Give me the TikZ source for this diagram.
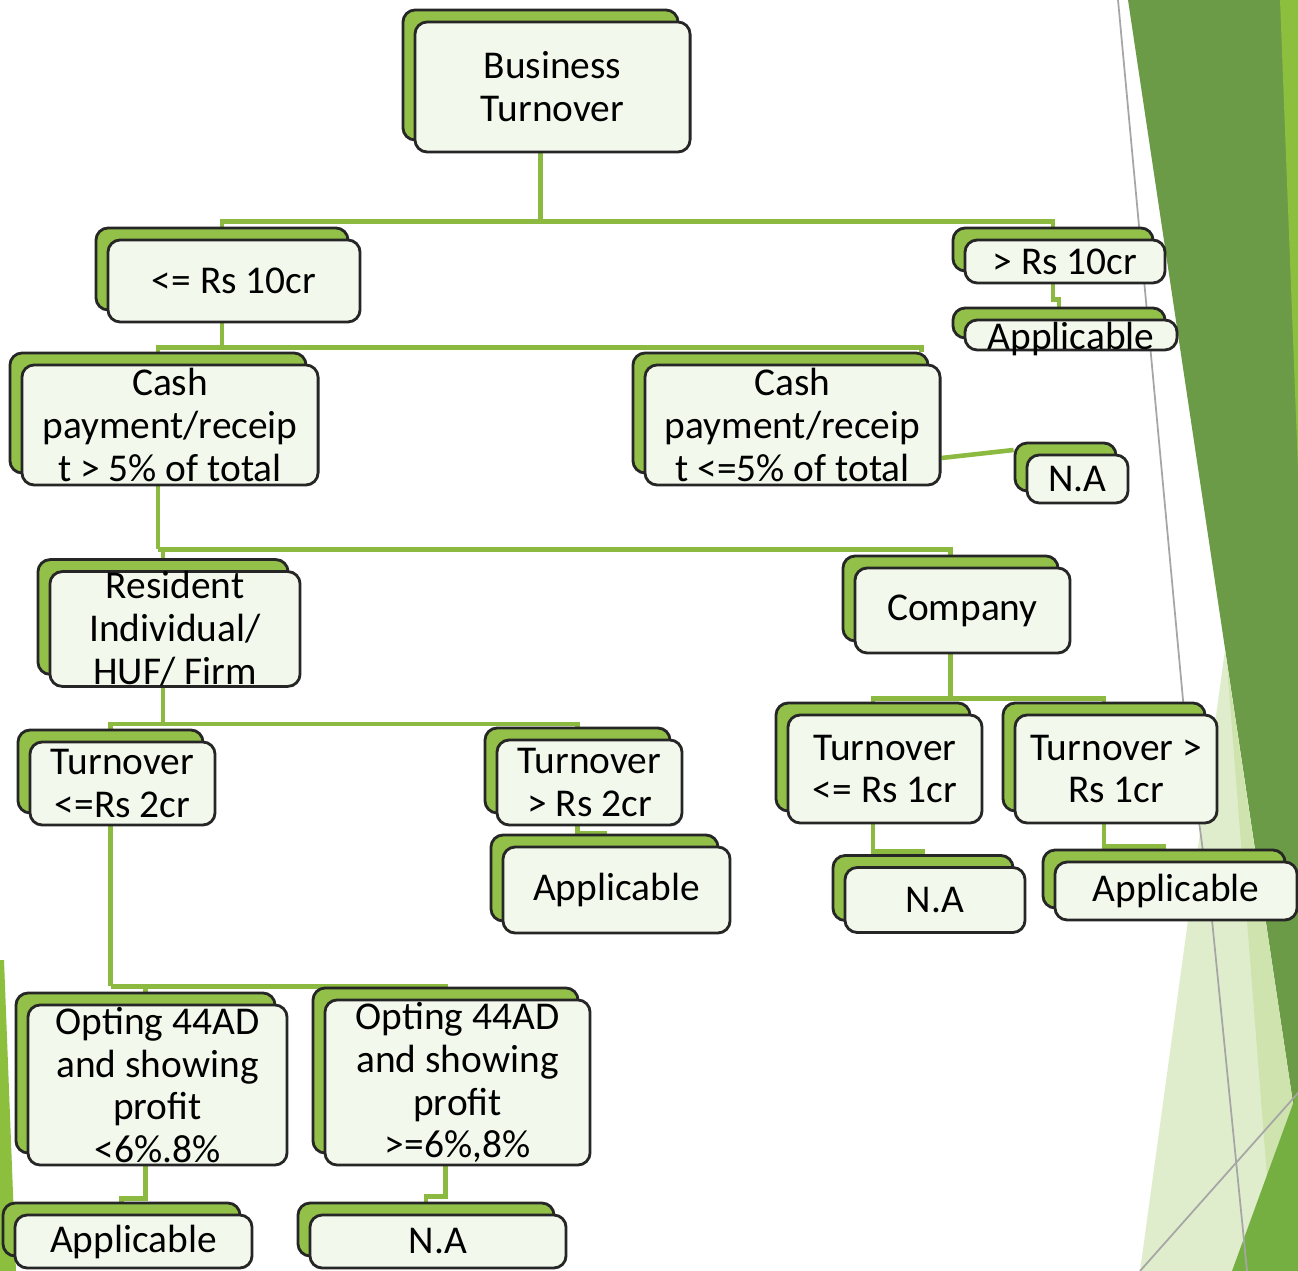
\documentclass[tikz,border=0pt]{standalone}
\usepackage{fontspec}
\setmainfont{Carlito}
\usepackage{xcolor}
\usetikzlibrary{shadows, backgrounds}
\definecolor{boxfill}{HTML}{F3F8EC}
\definecolor{boxgreen}{HTML}{92C048}
\definecolor{linkgreen}{HTML}{8CB940}
\definecolor{decodark}{HTML}{6B9B46}
\definecolor{decobright}{HTML}{8BBF3D}
\definecolor{decopale}{HTML}{E0EDCC}
\definecolor{decolight}{HTML}{CFE3AE}
\definecolor{decomid}{HTML}{76AF41}
\newcommand{\boxfont}{\fontsize{11.2}{12.2}\selectfont}
\pgfdeclarelayer{deco}
\pgfsetlayers{deco,background,main}
\tikzset{
  box/.style={draw=black!85, line width=0.8pt, rounded corners=3.5pt, fill=boxfill,
    inner sep=0pt, align=center, font=\boxfont,
    general shadow={fill=boxgreen, draw=black!85, line width=0.8pt, shadow xshift=-0.12cm, shadow yshift=0.12cm}},
  link/.style={draw=linkgreen, line width=1.3pt},
  decoline/.style={draw=black!35, line width=0.5pt},
}
\begin{document}
\begin{tikzpicture}[x=0.01cm, y=-0.01cm]
				\useasboundingbox (0,0) rectangle (1298,1271);
				
				\begin{pgfonlayer}{deco}
				\fill[white] (0,0) rectangle (1298,1271);
				\fill[decodark] (1128,0) -- (1298,0) -- (1298,1137) -- cycle;
				\fill[decobright] (1280,0) -- (1298,0) -- (1298,470) -- cycle;
				\fill[decopale] (1225,650) -- (1298,1137) -- (1298,1271) -- (1140,1271) -- cycle;
				\fill[decolight] (1227,665) -- (1298,1137) -- (1270,1215) -- cycle;
				\fill[decomid] (1298,1090) -- (1298,1271) -- (1232,1271) -- cycle;
				\fill[decobright] (0,960) -- (4,960) -- (16,1271) -- (0,1271) -- cycle;
				\draw[decoline] (1118,0) -- (1183,700) -- (1212,920) -- (1247,1271);
				\draw[decoline] (1298,1093) -- (1140,1271);
				\end{pgfonlayer}
				
				\node[box, minimum width=2.75cm, minimum height=1.30cm] (biz) at (552.5,87) {Business\\Turnover};
				\node[box, minimum width=2.52cm, minimum height=0.82cm] (le10) at (234,281) {<= Rs 10cr};
				\node[box, minimum width=2.00cm, minimum height=0.43cm] (gt10) at (1065,261.5) {> Rs 10cr};
				\node[box, minimum width=2.12cm, minimum height=0.30cm, text height=0.30cm, text depth=0pt] (appA) at (1071,335) {Applicable};
				
				\node[box, minimum width=2.96cm, minimum height=1.20cm] (cashA) at (170,425) {Cash\\payment/receip\\t > 5\% of total};
				\node[box, minimum width=2.95cm, minimum height=1.20cm] (cashB) at (792.5,425) {Cash\\payment/receip\\t <=5\% of total};
				\node[box, minimum width=1.01cm, minimum height=0.48cm] (naA) at (1077.5,479) {N.A};
				
				\node[box, minimum width=2.50cm, minimum height=1.14cm] (res) at (175,629) {Resident\\Individual/\\HUF/ Firm};
				\node[box, minimum width=2.15cm, minimum height=0.85cm] (comp) at (962.5,610.5) {Company};
				
				\node[box, minimum width=1.85cm, minimum height=0.83cm] (toA) at (122.5,783.5) {Turnover\\<=Rs 2cr};
				\node[box, minimum width=1.85cm, minimum height=0.85cm] (toB) at (589.5,782.5) {Turnover\\> Rs 2cr};
				\node[box, minimum width=2.27cm, minimum height=0.86cm] (appB) at (616.5,890) {Applicable};
				\node[box, minimum width=1.94cm, minimum height=1.08cm] (toC) at (885,769) {Turnover\\<= Rs 1cr};
				\node[box, minimum width=2.02cm, minimum height=1.08cm] (toD) at (1116,769) {Turnover >\\Rs 1cr};
				\node[box, minimum width=1.80cm, minimum height=0.65cm] (naB) at (935,900) {N.A};
				\node[box, minimum width=2.42cm, minimum height=0.58cm] (appC) at (1176,891) {Applicable};
				
				\node[box, minimum width=2.59cm, minimum height=1.60cm] (optA) at (157.5,1085) {Opting 44AD\\and showing\\profit\\<6\%.8\%};
				\node[box, minimum width=2.65cm, minimum height=1.65cm] (optB) at (457.5,1082.5) {Opting 44AD\\and showing\\profit\\>=6\%,8\%};
				\node[box, minimum width=2.37cm, minimum height=0.53cm] (appD) at (133.5,1241.5) {Applicable};
				\node[box, minimum width=2.56cm, minimum height=0.53cm] (naC) at (438,1241.5) {N.A};
				
				\begin{scope}[on background layer]
				\draw[link] ([shift={(-12,0)}]biz.south) -- ++(0,68) coordinate (j1);
				\draw[link] (j1) -| ([shift={(-12,-12)}]le10.north);
				\draw[link] (j1) -| ([shift={(-12,-12)}]gt10.north);
				\draw[link] ([shift={(-12,0)}]gt10.south) -- ++(0,15) -| ([shift={(-12,-12)}]appA.north);
				
				\draw[link] ([shift={(-12,0)}]le10.south) -- ++(0,24) coordinate (j2);
				\draw[link] (j2) -| ([shift={(-12,-12)}]cashA.north);
				\draw[link] (j2) -| ([shift={(-20,-12)}]cashB.north east);
				\draw[link] ([shift={(0,33)}]cashB.east) -- ([shift={(-12,-29)}]naA.west);
				
				\draw[link] ([shift={(-12,0)}]cashA.south) -- ++(0,63) coordinate (j3);
				\draw[link] (j3) -| ([shift={(-12,-12)}]res.north);
				\draw[link] (j3) -| ([shift={(-12,-12)}]comp.north);
				
				\draw[link] ([shift={(-12,0)}]res.south) -- ++(0,36) coordinate (j4);
				\draw[link] (j4) -| ([shift={(-12,-12)}]toA.north);
				\draw[link] (j4) -| ([shift={(-12,-12)}]toB.north);
				\draw[link] ([shift={(-12,0)}]toB.south) -- ++(0,7) -| ([shift={(-12,-12)}]appB.north);
				
				\draw[link] ([shift={(-12,0)}]comp.south) -- ++(0,44) coordinate (j5);
				\draw[link] (j5) -| ([shift={(-12,-12)}]toC.north);
				\draw[link] (j5) -| ([shift={(-12,-12)}]toD.north);
				\draw[link] ([shift={(-12,0)}]toC.south) -- ++(0,27) -| ([shift={(-12,-12)}]naB.north);
				\draw[link] ([shift={(-12,0)}]toD.south) -- ++(0,22) -| ([shift={(-12,-12)}]appC.north);
				
				\draw[link] ([shift={(-12,0)}]toA.south) -- ++(0,160) coordinate (j6);
				\draw[link] (j6) -| ([shift={(-12,-12)}]optA.north);
				\draw[link] (j6) -| ([shift={(-12,-12)}]optB.north);
				\draw[link] ([shift={(-12,0)}]optA.south) -- ++(0,32) -| ([shift={(-12,-12)}]appD.north);
				\draw[link] ([shift={(-12,0)}]optB.south) -- ++(0,30) -| ([shift={(-12,-12)}]naC.north);
				\end{scope}
			\end{tikzpicture}
\end{document}
